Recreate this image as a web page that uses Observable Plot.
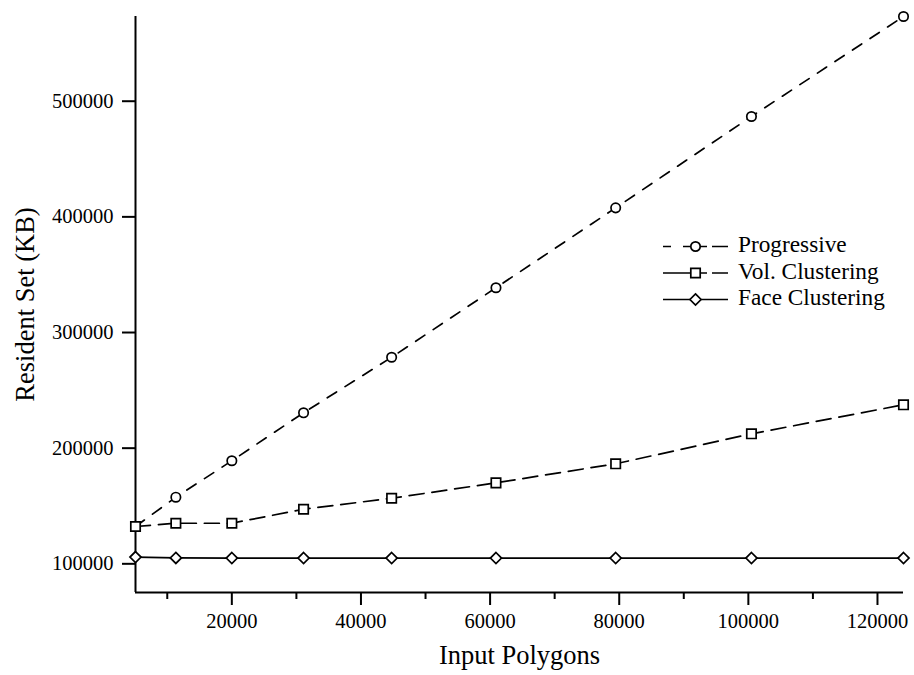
<!DOCTYPE html>
<html>
<head>
<meta charset="utf-8">
<script src="https://cdn.jsdelivr.net/npm/d3@7"></script>
<script src="https://cdn.jsdelivr.net/npm/@observablehq/plot@0.6"></script>
<style>
  html, body { margin: 0; padding: 0; background: #fff; }
  #chart { position: relative; width: 914px; height: 675px; }
  #legend { position: absolute; left: 0; top: 0; pointer-events: none; }
</style>
</head>
<body>
<div id="chart"></div>
<script>
// ---- data ----
const polygons = [5080, 11330, 20000, 31110, 44750, 60910, 79450, 100480, 124030];
const progressive = [132250, 157600, 189100, 230600, 278600, 338700, 407800, 486800, 573250];
const volClustering = [132250, 135100, 135100, 147200, 156700, 170000, 186500, 212400, 237500];
const faceClustering = [105800, 105100, 105000, 105000, 105000, 105000, 105000, 105000, 105000];
const seriesNames = ["Progressive", "Vol. Clustering", "Face Clustering"];
const yTicks = [100000, 200000, 300000, 400000, 500000];
const xTicks = [20000, 40000, 60000, 80000, 100000, 120000];
const xMinorTicks = [10000, 30000, 50000, 70000, 90000, 110000];
const xTitle = "Input Polygons";
const yTitle = "Resident Set (KB)";

// ---- table ----
const valuesBySeries = [progressive, volClustering, faceClustering];
const rows = [];
seriesNames.forEach((s, i) => polygons.forEach((x, j) => rows.push({series: s, x, y: valuesBySeries[i][j]})));
const bySeries = s => rows.filter(d => d.series === s);

const xDomain = [d3.min(polygons), d3.max(polygons)];
const yDomain = [75200, d3.max(progressive)];

const styles = {
  "Progressive": {dash: "11,10", legendDash: "8,12,24,5,16", symbol: "circle", r: 4.7},
  "Vol. Clustering": {dash: "15,8", legendDash: "44,5,20", symbol: "square", r: 5.3},
  "Face Clustering": {dash: null, legendDash: null, symbol: "diamond2", r: 5}
};
const LW = 1.7;
const FONT = "'Liberation Serif', 'Times New Roman', serif";

const chart = Plot.plot({
  width: 914,
  height: 675,
  marginLeft: 135,
  marginRight: 11,
  marginTop: 16,
  marginBottom: 83,
  style: {fontFamily: FONT, background: "white", color: "black"},
  x: {domain: xDomain, label: null},
  y: {domain: yDomain, label: null},
  marks: [
    Plot.ruleX([xDomain[0]], {stroke: "black", strokeWidth: 2}),
    Plot.ruleY([yDomain[0]], {stroke: "black", strokeWidth: 2}),
    Plot.axisX({ticks: xTicks, tickSize: 13, tickPadding: 7.5, tickFormat: d3.format("d"), strokeWidth: 2, fontSize: 20.5, label: null}),
    Plot.axisX({ticks: xMinorTicks, tickSize: 7, tickFormat: () => "", strokeWidth: 2, label: null}),
    Plot.axisY({ticks: yTicks, tickSize: 13, tickPadding: 9, tickFormat: d3.format("d"), strokeWidth: 2, fontSize: 20.5, label: null}),
    Plot.line(bySeries("Face Clustering"), {x: "x", y: "y", stroke: "black", strokeWidth: LW}),
    Plot.line(bySeries("Vol. Clustering"), {x: "x", y: "y", stroke: "black", strokeWidth: LW, strokeDasharray: styles["Vol. Clustering"].dash}),
    Plot.line(bySeries("Progressive"), {x: "x", y: "y", stroke: "black", strokeWidth: LW, strokeDasharray: styles["Progressive"].dash}),
    Plot.dot(bySeries("Face Clustering"), {x: "x", y: "y", symbol: "diamond2", r: styles["Face Clustering"].r, fill: "white", stroke: "black", strokeWidth: LW}),
    Plot.dot(bySeries("Progressive"), {x: "x", y: "y", symbol: "circle", r: styles["Progressive"].r, fill: "white", stroke: "black", strokeWidth: LW}),
    Plot.dot(bySeries("Vol. Clustering"), {x: "x", y: "y", symbol: "square", r: styles["Vol. Clustering"].r, fill: "white", stroke: "black", strokeWidth: LW}),
    Plot.text([xTitle], {text: d => d, frameAnchor: "bottom", textAnchor: "middle", lineAnchor: "middle", dy: 63.5, fontSize: 26.5, fill: "black"}),
    Plot.text([yTitle], {text: d => d, frameAnchor: "left", textAnchor: "middle", lineAnchor: "middle", rotate: -90, dx: -110.2, fontSize: 26.5, fill: "black"})
  ]
});
document.getElementById("chart").appendChild(chart);

// ---- legend (inside plot area, upper right) ----
const legend = d3.select("#chart").append("svg")
  .attr("id", "legend").attr("width", 914).attr("height", 675);
const lx0 = 663, lx1 = 728, lmx = 695.5, ltx = 738, ly0 = 246.5, lstep = 26.5;
seriesNames.forEach((s, i) => {
  const st = styles[s];
  const y = ly0 + i * lstep;
  const g = legend.append("g");
  g.append("line").attr("x1", lx0).attr("x2", lx1).attr("y1", y).attr("y2", y)
    .attr("stroke", "black").attr("stroke-width", LW)
    .attr("stroke-dasharray", st.legendDash);
  const sym = {circle: d3.symbolCircle, square: d3.symbolSquare, diamond2: d3.symbolDiamond2}[st.symbol];
  g.append("path").attr("transform", `translate(${lmx},${y})`)
    .attr("d", d3.symbol(sym, Math.PI * st.r * st.r)())
    .attr("fill", "white").attr("stroke", "black").attr("stroke-width", LW);
  g.append("text").attr("x", ltx).attr("y", y + 5.5)
    .style("font-family", FONT).attr("font-size", 23.3).attr("fill", "black").text(s);
});
</script>
</body>
</html>
